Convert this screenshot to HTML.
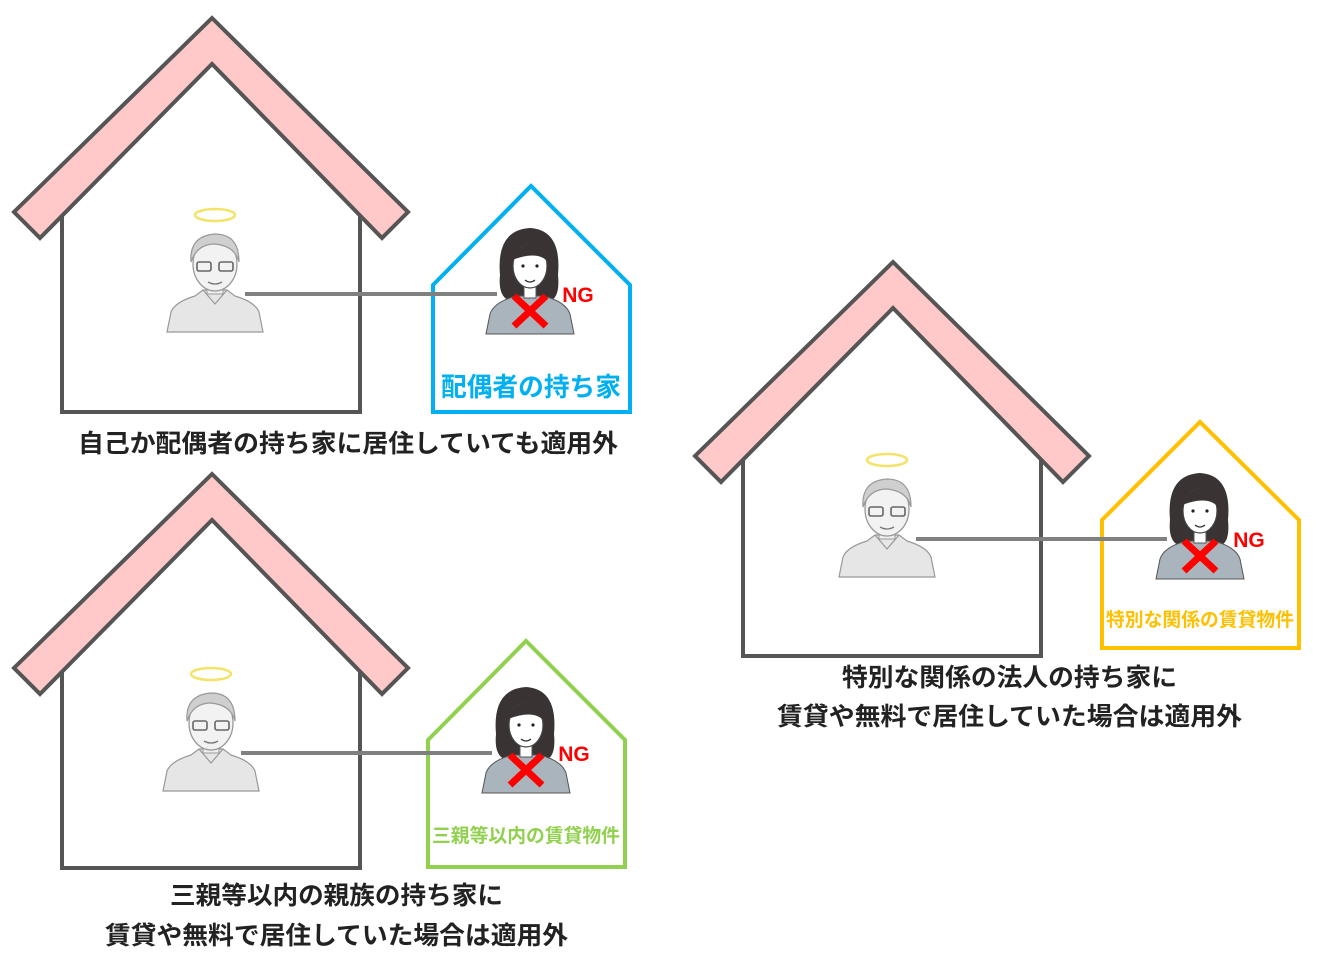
<!DOCTYPE html>
<html><head><meta charset="utf-8"><style>
html,body{margin:0;padding:0;background:#fff;}
svg{display:block}
text{font-family:"Liberation Sans","Noto Sans CJK JP",sans-serif;}
</style></head><body>
<svg width="1322" height="963" viewBox="0 0 1322 963" xmlns="http://www.w3.org/2000/svg">
<defs>
<g id="house">
<path d="M62,215 V412 H360 V215" fill="none" stroke="#555" stroke-width="4"/>
<polygon points="212,18 408,212 382,238 212,64 40,238 14,212" fill="#ffc9c9" stroke="#555" stroke-width="4" stroke-linejoin="miter"/>
</g>
<g id="man">
<ellipse cx="0" cy="-65" rx="20" ry="6" fill="none" stroke="#f3e36a" stroke-width="2.5"/>
<path d="M-48,52 L-44,32 Q-40,22 -20,16 L-12,10 L12,10 L20,16 Q40,22 44,32 L48,52 Z" fill="#e6e6e6" stroke="#999" stroke-width="1.2"/>
<path d="M-12,10 L0,24 L12,10" fill="none" stroke="#999" stroke-width="1.2"/>
<rect x="-8" y="0" width="16" height="14" fill="#eee" stroke="#999" stroke-width="1"/>
<ellipse cx="0" cy="-16" rx="22" ry="27" fill="#f2f2f2" stroke="#999" stroke-width="1.3"/>
<path d="M-24,-18 Q-26,-44 0,-46 Q24,-46 24,-18 Q20,-34 0,-36 Q-18,-36 -24,-18 Z" fill="#cfcfcf" stroke="#999" stroke-width="1.2"/>
<rect x="-18" y="-18" width="14" height="9" rx="2" fill="none" stroke="#666" stroke-width="1.6"/>
<rect x="4" y="-18" width="14" height="9" rx="2" fill="none" stroke="#666" stroke-width="1.6"/>
<path d="M-7,2 Q0,6 7,2" fill="none" stroke="#777" stroke-width="1.3"/>
</g>
<g id="woman">
<path d="M-30,-5 Q-34,-50 0,-52 Q32,-50 28,-5 Q30,15 22,20 L-22,20 Q-32,15 -30,-5 Z" fill="#3a3333"/>
<path d="M-44,54 L-40,34 Q-36,22 -14,16 L14,16 Q36,22 40,34 L44,54 Z" fill="#a9b4bd" stroke="#555" stroke-width="1"/>
<rect x="-6" y="4" width="12" height="14" fill="#fff" stroke="#555" stroke-width="1"/>
<ellipse cx="0" cy="-14" rx="17" ry="22" fill="#fff" stroke="#444" stroke-width="1.2"/>
<path d="M-18,-20 Q-10,-40 8,-36 Q18,-30 18,-18 Q8,-30 -18,-20 Z" fill="#3a3333"/>
<circle cx="-7" cy="-14" r="1.6" fill="#222"/><circle cx="7" cy="-14" r="1.6" fill="#222"/>
<path d="M-5,0 Q0,4 5,0" fill="none" stroke="#333" stroke-width="1.2"/>
<path d="M-16,16 L16,46 M16,16 L-16,46" stroke="#ff0000" stroke-width="7"/>
</g>
</defs>

<!-- House 1 -->
<use href="#house"/>
<path d="M433,285 L531,186 L630,285 V412 H433 Z" fill="none" stroke="#00b0f0" stroke-width="4"/>
<use href="#man" x="215" y="280"/>
<use href="#woman" x="530" y="280"/>
<line x1="245" y1="294" x2="497" y2="294" stroke="#808080" stroke-width="4"/>
<text x="578" y="302" font-size="21" font-weight="bold" fill="#ff0000" text-anchor="middle">NG</text>
<text x="441" y="396" font-size="26" font-weight="bold" fill="#00b0f0" textLength="180" lengthAdjust="spacingAndGlyphs">配偶者の持ち家</text>
<text x="78" y="452" font-size="25" font-weight="bold" fill="#222" textLength="540" lengthAdjust="spacingAndGlyphs">自己か配偶者の持ち家に居住していても適用外</text>

<!-- House 2 -->
<use href="#house" y="456"/>
<path d="M428,740 L526,641 L625,740 V867 H428 Z" fill="none" stroke="#92d050" stroke-width="4"/>
<use href="#man" x="211" y="739"/>
<use href="#woman" x="526" y="739"/>
<line x1="241" y1="753" x2="492" y2="753" stroke="#808080" stroke-width="4"/>
<text x="574" y="761" font-size="21" font-weight="bold" fill="#ff0000" text-anchor="middle">NG</text>
<text x="432" y="842" font-size="19" font-weight="bold" fill="#92d050" textLength="188" lengthAdjust="spacingAndGlyphs">三親等以内の賃貸物件</text>
<text x="170" y="904" font-size="25" font-weight="bold" fill="#222" textLength="333" lengthAdjust="spacingAndGlyphs">三親等以内の親族の持ち家に</text>
<text x="105" y="944" font-size="25" font-weight="bold" fill="#222" textLength="463" lengthAdjust="spacingAndGlyphs">賃貸や無料で居住していた場合は適用外</text>

<!-- House 3 -->
<use href="#house" x="681" y="244"/>
<path d="M1102,520 L1200,422 L1299,520 V648 H1102 Z" fill="none" stroke="#ffc000" stroke-width="4"/>
<use href="#man" x="887" y="525"/>
<use href="#woman" x="1200" y="525"/>
<line x1="916" y1="539" x2="1167" y2="539" stroke="#808080" stroke-width="4"/>
<text x="1249" y="547" font-size="21" font-weight="bold" fill="#ff0000" text-anchor="middle">NG</text>
<text x="1106" y="626" font-size="19" font-weight="bold" fill="#ffc000" textLength="188" lengthAdjust="spacingAndGlyphs">特別な関係の賃貸物件</text>
<text x="842" y="686" font-size="25" font-weight="bold" fill="#222" textLength="335" lengthAdjust="spacingAndGlyphs">特別な関係の法人の持ち家に</text>
<text x="777" y="725" font-size="25" font-weight="bold" fill="#222" textLength="465" lengthAdjust="spacingAndGlyphs">賃貸や無料で居住していた場合は適用外</text>
</svg>
</body></html>
